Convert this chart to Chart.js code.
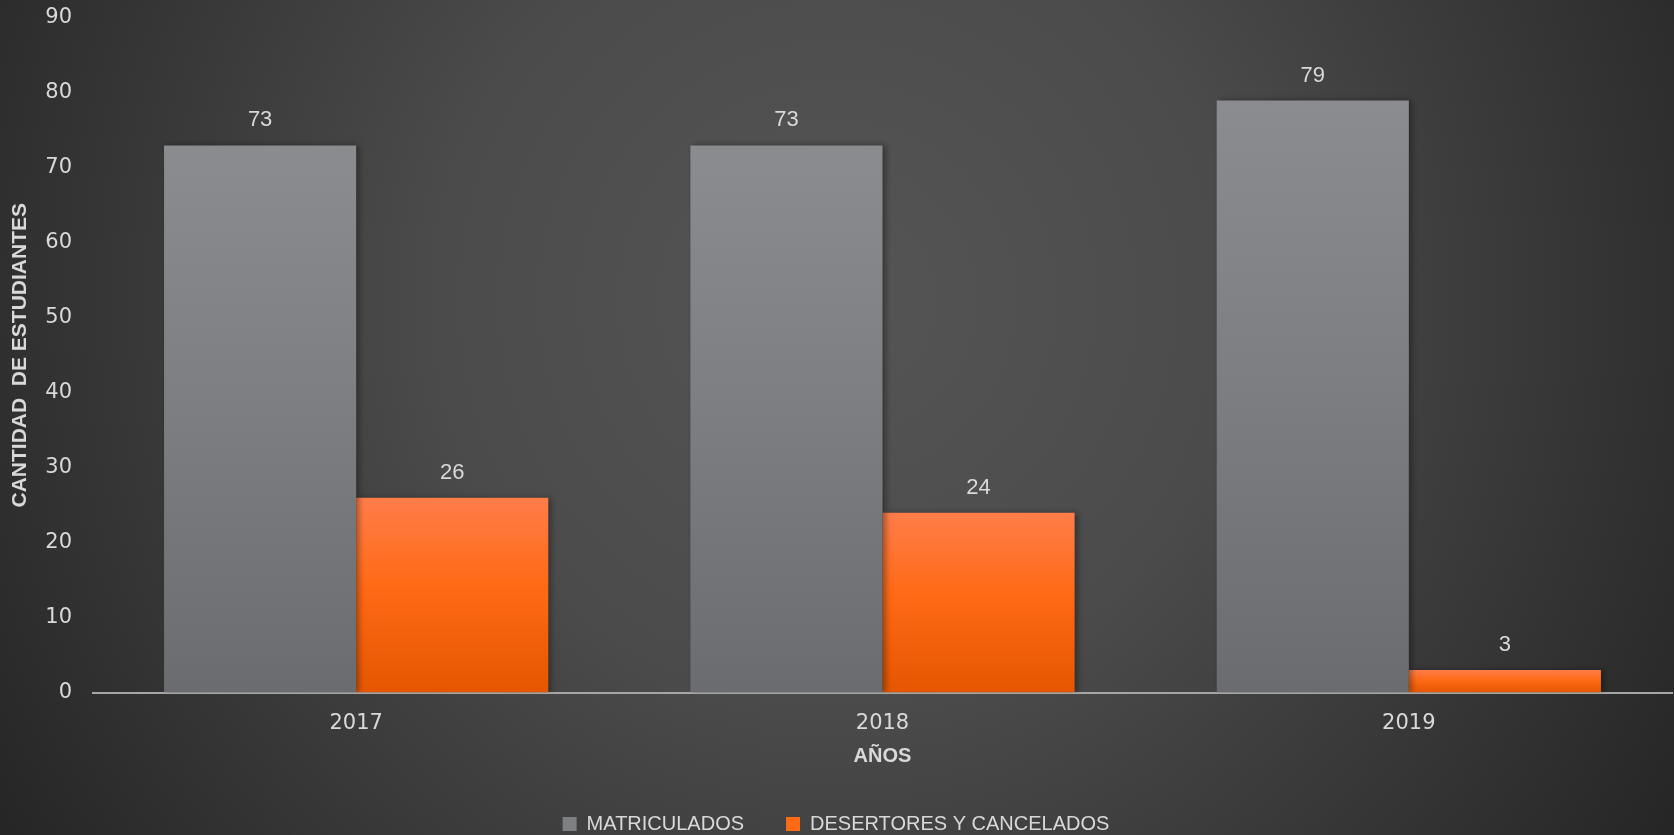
<!DOCTYPE html>
<html>
<head>
<meta charset="utf-8">
<script src="https://cdn.jsdelivr.net/npm/chart.js@4"></script>
<style>
  html, body { margin: 0; padding: 0; background: #2a2a2a; }
  #wrap { width: 1674px; height: 835px; }
</style>
</head>
<body>
<div id="wrap"><canvas id="myChart" width="1674" height="835"></canvas></div>
<script>
var years = ["2017", "2018", "2019"];
var matriculados = [73, 73, 79];
var desertores = [26, 24, 3];
var yTicks = [0, 10, 20, 30, 40, 50, 60, 70, 80, 90];

var labelFont = "'Liberation Sans', Arial, sans-serif";
var tickFont = "'DejaVu Sans', sans-serif";

function barGradient(top, mid, bottom) {
	return function (c) {
		var chart = c.chart;
		var y = chart.scales.y;
		if (!y || c.raw == null) return top;
		var y0 = y.getPixelForValue(c.raw);
		var y1 = y.getPixelForValue(0);
		if (!isFinite(y0) || !isFinite(y1) || y0 === y1) return top;
		var g = chart.ctx.createLinearGradient(0, y0, 0, y1);
		g.addColorStop(0, top);
		g.addColorStop(0.45, mid);
		g.addColorStop(1, bottom);
		return g;
	};
}

var background = {
	id: "background",
	beforeDraw: function (chart) {
		var ctx = chart.ctx;
		var g = ctx.createRadialGradient(837, 300, 0, 837, 300, 1000);
		g.addColorStop(0, "#555555");
		g.addColorStop(0.4, "#4b4b4b");
		g.addColorStop(1, "#252525");
		ctx.save();
		ctx.fillStyle = g;
		ctx.fillRect(0, 0, chart.width, chart.height);
		ctx.restore();
	},
	beforeDatasetsDraw: function (chart) {
		var ctx = chart.ctx;
		ctx.save();
		ctx.shadowColor = "rgba(0,0,0,0.35)";
		ctx.shadowBlur = 6;
		ctx.shadowOffsetX = 3;
		ctx.shadowOffsetY = 0;
	},
	afterDatasetsDraw: function (chart) {
		var ctx = chart.ctx;
		ctx.restore();
		ctx.save();
		ctx.fillStyle = "#d9d9d9";
		ctx.font = "22px " + labelFont;
		ctx.textAlign = "center";
		ctx.textBaseline = "bottom";
		chart.data.datasets.forEach(function (ds, i) {
			chart.getDatasetMeta(i).data.forEach(function (bar, j) {
				ctx.fillText(ds.data[j], bar.x, bar.y - 14);
			});
		});
		ctx.restore();
	}
};

var ctx = document.getElementById("myChart").getContext("2d");

var graphData = {
	type: "bar",
	data: {
		labels: years,
		datasets: [
			{
				label: "MATRICULADOS",
				data: matriculados,
				backgroundColor: barGradient("#8b8c90", "#7e7f83", "#6b6c70"),
				borderWidth: 0,
			},
			{
				label: "DESERTORES Y CANCELADOS",
				data: desertores,
				backgroundColor: barGradient("#ff7d4a", "#ff6a15", "#e55600"),
				borderWidth: 0,
			},
		],
	},
	options: {
		responsive: false,
		animation: false,
		layout: { padding: { top: 18, right: 2, left: 0, bottom: 0 } },
		datasets: {
			bar: { categoryPercentage: 0.73, barPercentage: 1 },
		},
		plugins: {
			tooltip: { enabled: false },
			legend: {
				position: "bottom",
				maxHeight: 63,
				labels: {
					color: "#d9d9d9",
					font: { family: labelFont, size: 20 },
					boxWidth: 14,
					boxHeight: 14,
					padding: 42,
					generateLabels: function (chart) {
						return chart.data.datasets.map(function (ds, i) {
							return {
								text: ds.label,
								fillStyle: i === 0 ? "#7f8084" : "#ff6a15",
								strokeStyle: "transparent",
								lineWidth: 0,
								datasetIndex: i,
								fontColor: "#d9d9d9",
							};
						});
					},
				},
			},
		},
		scales: {
			x: {
				grid: { display: false, drawTicks: false },
				border: { display: true, color: "#a6a6a6", width: 2 },
				afterFit: function (scale) {
					scale.height = 79.5;
				},
				ticks: {
					color: "#d9d9d9",
					font: { family: tickFont, size: 21 },
					padding: 18,
				},
				title: {
					display: true,
					text: "AÑOS",
					color: "#d9d9d9",
					font: { family: labelFont, size: 20, weight: "bold" },
					padding: { top: 0, bottom: 3.5 },
				},
			},
			y: {
				min: 0,
				max: 90,
				grid: { display: false, drawTicks: false },
				border: { display: false },
				afterBuildTicks: function (scale) {
					scale.ticks = yTicks.map(function (v) { return { value: v }; });
				},
				afterFit: function (scale) {
					scale.width = 93;
					scale.paddingTop = 13;
					scale.paddingBottom = 13;
				},
				ticks: {
					color: "#d9d9d9",
					font: { family: tickFont, size: 21 },
					padding: 21,
				},
				title: {
					display: true,
					text: "CANTIDAD  DE ESTUDIANTES",
					color: "#d9d9d9",
					font: { family: labelFont, size: 21, weight: "bold" },
					padding: { top: 8, bottom: 0 },
				},
			},
		},
	},
	plugins: [background],
};

var myChart = new Chart(ctx, graphData);
</script>
</body>
</html>
